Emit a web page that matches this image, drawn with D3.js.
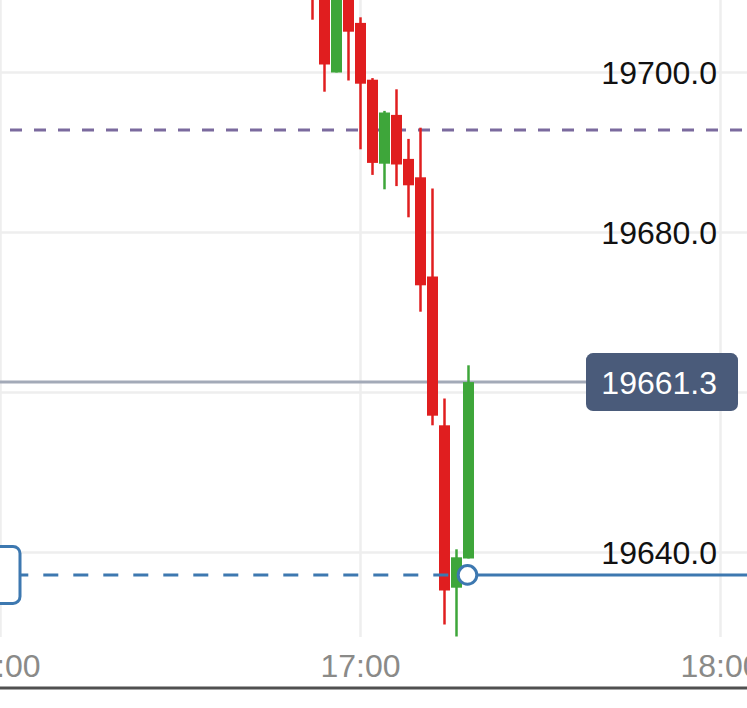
<!DOCTYPE html>
<html>
<head>
<meta charset="utf-8">
<script src="https://cdn.jsdelivr.net/npm/d3@7"></script>
<style>
html,body{margin:0;padding:0;background:#fff;}
svg{display:block;}
</style>
</head>
<body>
<svg id="chart" width="747" height="708"></svg>
<script>
// ---- data ----
const times = ["16:52","16:54","16:56","16:58","17:00","17:02","17:04","17:06","17:08","17:10","17:12","17:14","17:16","17:18"];
const opens  = [19715, 19712, 19700, 19712, 19706.2, 19699.1, 19688.6, 19694.7, 19689.2, 19686.9, 19674.5, 19655.9, 19635.6, 19639.25];
const highs  = [19718, 19714, 19715, 19714, 19706.9, 19699.3, 19695.2, 19697.9, 19691.7, 19693.1, 19685.5, 19659.25, 19640.4, 19663.4];
const lows   = [19706.6, 19697.6, 19700, 19699, 19690.4, 19687.2, 19685.4, 19685.8, 19681.9, 19670.1, 19655.9, 19631.0, 19629.5, 19639.25];
const closes = [19710, 19701, 19713, 19705.1, 19698.6, 19688.7, 19695.0, 19688.5, 19685.9, 19673.4, 19657.1, 19635.25, 19639.4, 19661.3];
const yTicks = [19640, 19660, 19680, 19700];
const xTicks = ["16:00","17:00","18:00"];
const lastPrice = 19661.3;
const orderPrice = 19637.2;
const refPrice = 19692.8;
const orderTime = "17:18";

// ---- setup ----
const W = 747, H = 708;
const svg = d3.select("#chart");
const parse = d3.timeParse("%H:%M");
const x = d3.scaleTime().domain([parse("16:00"), parse("18:00")]).range([0.5, 720.5]);
const y = d3.scaleLinear().domain([19640, 19700]).range([552.5, 72.5]);
const plotBottom = 637;
const FONT = "'Liberation Sans', Arial, sans-serif";

const candles = times.map((t,i)=>({t:parse(t), o:opens[i], h:highs[i], l:lows[i], c:closes[i]}));

svg.append("defs").append("clipPath").attr("id","plotclip")
  .append("rect").attr("x",0).attr("y",0).attr("width",W).attr("height",plotBottom);

const plot = svg.append("g").attr("clip-path","url(#plotclip)");

// gridlines
plot.selectAll("line.hg").data(yTicks).join("line")
  .attr("x1",0).attr("x2",W)
  .attr("y1",d=>y(d)).attr("y2",d=>y(d))
  .attr("stroke","#eeeeee").attr("stroke-width",2.5);
plot.selectAll("line.vg").data(xTicks).join("line")
  .attr("x1",d=>x(parse(d))).attr("x2",d=>x(parse(d)))
  .attr("y1",0).attr("y2",plotBottom)
  .attr("stroke","#eeeeee").attr("stroke-width",2.5);

// purple reference line
plot.append("line")
  .attr("x1",0).attr("x2",W).attr("y1",y(refPrice)).attr("y2",y(refPrice))
  .attr("stroke","#7b6a9e").attr("stroke-width",3)
  .attr("stroke-dasharray","12,12").attr("stroke-dashoffset",-10);

// last price line
plot.append("line")
  .attr("x1",0).attr("x2",590).attr("y1",y(lastPrice)).attr("y2",y(lastPrice))
  .attr("stroke","#a3aab8").attr("stroke-width",3);

// candles
const up = "#3ea63a", down = "#e01e1f";
const bodyW = 11;
const cg = plot.append("g");
cg.selectAll("line.wick").data(candles).join("line")
  .attr("x1",d=>x(d.t)).attr("x2",d=>x(d.t))
  .attr("y1",d=>y(d.h)).attr("y2",d=>y(d.l))
  .attr("stroke",d=>d.c>=d.o?up:down).attr("stroke-width",2.5);
cg.selectAll("rect.body").data(candles).join("rect")
  .attr("x",d=>x(d.t)-bodyW/2).attr("width",bodyW)
  .attr("y",d=>y(Math.max(d.o,d.c)))
  .attr("height",d=>Math.max(1,Math.abs(y(d.o)-y(d.c))))
  .attr("fill",d=>d.c>=d.o?up:down);

// order line (blue)
const blue = "#3d78b0";
const oy = y(orderPrice), ox = x(parse(orderTime));
plot.append("line")
  .attr("x1",20).attr("x2",ox).attr("y1",oy).attr("y2",oy)
  .attr("stroke",blue).attr("stroke-width",3)
  .attr("stroke-dasharray","15,15").attr("stroke-dashoffset",6.7);
plot.append("line")
  .attr("x1",ox).attr("x2",W).attr("y1",oy).attr("y2",oy)
  .attr("stroke",blue).attr("stroke-width",3);
plot.append("circle")
  .attr("cx",ox-1).attr("cy",oy).attr("r",9.3)
  .attr("fill","#fff").attr("stroke",blue).attr("stroke-width",3);
plot.append("rect")
  .attr("x",-30).attr("y",oy-28.5).attr("width",50).attr("height",57)
  .attr("rx",7).attr("fill","#fff").attr("stroke",blue).attr("stroke-width",3);

// y labels
const priceBoxY = y(lastPrice);
svg.append("g").selectAll("text").data(yTicks.filter(d=>Math.abs(y(d)-priceBoxY)>35)).join("text")
  .attr("x",717).attr("y",d=>y(d)).attr("dy","0.36em")
  .attr("text-anchor","end")
  .attr("font-family",FONT).attr("font-size",32).attr("fill","#111")
  .text(d=>d3.format(".1f")(d));

// price box
svg.append("rect")
  .attr("x",586).attr("y",priceBoxY-29).attr("width",152).attr("height",58)
  .attr("rx",7).attr("fill","#4a5b7a");
svg.append("text")
  .attr("x",717).attr("y",priceBoxY).attr("dy","0.36em")
  .attr("text-anchor","end")
  .attr("font-family",FONT).attr("font-size",32).attr("fill","#fff")
  .text(d3.format(".1f")(lastPrice));

// x labels
svg.append("g").selectAll("text").data(xTicks).join("text")
  .attr("x",d=>x(parse(d))).attr("y",677)
  .attr("text-anchor","middle")
  .attr("font-family",FONT).attr("font-size",32).attr("fill","#8a8a88")
  .text(d=>d);

// bottom axis line
svg.append("line").attr("x1",0).attr("x2",W).attr("y1",688).attr("y2",688)
  .attr("stroke","#505050").attr("stroke-width",3);
</script>
</body>
</html>
